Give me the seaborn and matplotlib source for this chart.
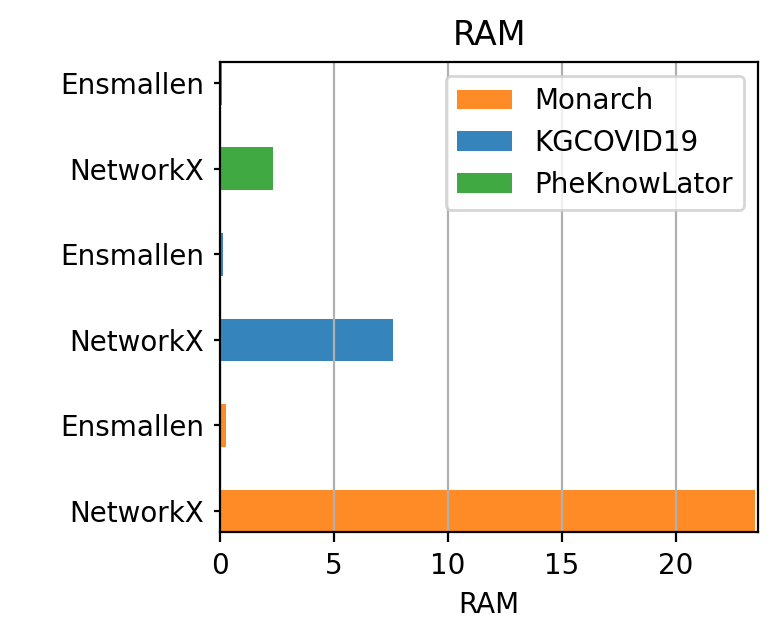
import pandas as pd
import matplotlib.pyplot as plt
import seaborn as sns

# RAM usage per library and graph (rows listed top to bottom)
graphs = ['PheKnowLator', 'PheKnowLator', 'KGCOVID19', 'KGCOVID19', 'Monarch', 'Monarch']
libraries = ['Ensmallen', 'NetworkX', 'Ensmallen', 'NetworkX', 'Ensmallen', 'NetworkX']
ram = [0.08, 2.32, 0.13, 7.57, 0.27, 23.45]

legend_order = ['Monarch', 'KGCOVID19', 'PheKnowLator']
colors = {'Monarch': '#ff7f0e', 'KGCOVID19': '#1f77b4', 'PheKnowLator': '#2ca02c'}


def main():
    df = pd.DataFrame({'graph': graphs, 'library': libraries, 'RAM': ram})
    df['row'] = [str(i) for i in range(len(df))]

    fig, ax = plt.subplots(figsize=(3.9, 3.195), dpi=200)
    fig.subplots_adjust(left=0.282, right=0.972, top=0.903, bottom=0.167)

    sns.barplot(data=df, x='RAM', y='row', hue='graph', hue_order=legend_order,
                palette=colors, dodge=False, width=0.5, saturation=1,
                errorbar=None, alpha=0.9, linewidth=0, orient='h', ax=ax)

    ax.set_yticks(range(len(df)))
    ax.set_yticklabels(df['library'])
    ax.tick_params(axis='y', length=2.2)
    ax.set_ylim(len(df) - 0.75, -0.25)
    ax.set_xlim(0, 23.6)
    ax.set_ylabel('')
    ax.set_xlabel('RAM')
    ax.set_title('RAM')
    ax.grid(axis='x')
    ax.legend(loc='upper right')

    fig.savefig('out.png', dpi=200)
    plt.close('all')


if __name__ == '__main__':
    main()
